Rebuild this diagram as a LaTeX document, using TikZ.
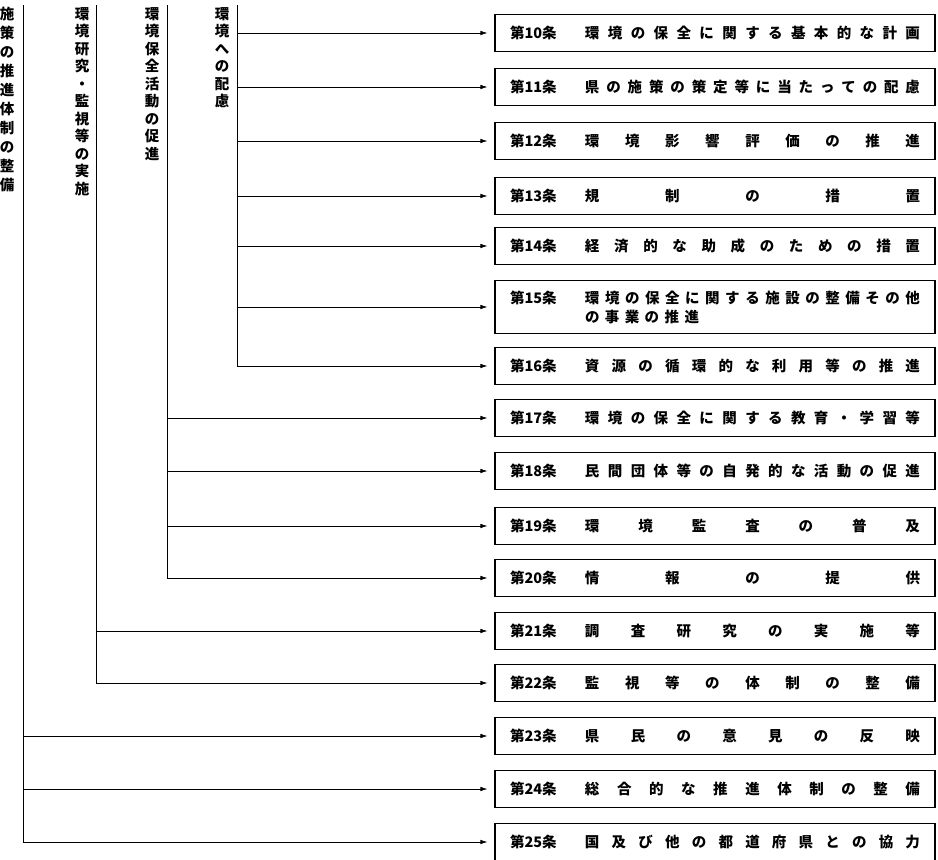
\documentclass[tikz,border=0pt]{standalone}
\usepackage{fontspec}
\newfontfamily\jp{Noto Sans CJK JP}
\usetikzlibrary{arrows.meta}

\ExplSyntaxOn
% spread the characters of #2 evenly over the width #1
\NewDocumentCommand\spread{mm}{
  \hbox_to_wd:nn {#1} { \skip_horizontal:n {0pt~plus~-1fil} \tl_map_inline:nn {#2} { \hfil ##1 } }
}
% set the characters of #2 one under another
\NewDocumentCommand\vtext{O{18pt}m}{
  \vbox:n { \baselineskip=#1 \lineskiplimit=-10pt \tl_map_inline:nn {#2} { \hbox_to_wd:nn {1em} { \hss ##1 \hss } } }
}
\ExplSyntaxOff
\newcommand\artbox[2]{\makebox[75pt][l]{#1}\spread{335pt}{#2}}

\begin{document}
\begin{tikzpicture}[
  x=1pt, y=-1pt,
  every node/.style={font=\jp\bfseries\fontsize{14.5pt}{19pt}\selectfont},
  box/.style={draw, line width=1.1pt, minimum width=440pt, minimum height=37pt, inner xsep=0pt},
  vlabel/.style={anchor=north, inner sep=0pt},
  conn/.style={line width=0.7pt, >={Latex[length=7pt,width=4.5pt]}, shorten >=7pt},
]
\useasboundingbox (0,0) rectangle (938,860);

% Left: vertical headings and their trunks
\node[vlabel] (h4) at (7,7) {\vtext[19pt]{施策の推進体制の整備}};
\node[vlabel] (h3) at (82,7) {\vtext[17.5pt]{環境研究・監視等の実施}};
\node[vlabel] (h2) at (152,7) {\vtext[17.5pt]{環境保全活動の促進}};
\node[vlabel] (h1) at (222,7) {\vtext[17.5pt]{環境への配慮}};
\coordinate (t4) at (23,5);
\coordinate (t3) at (96,5);
\coordinate (t2) at (167,5);
\coordinate (t1) at (237,5);

% Right: articles
\node[box] (a10) at (715,33) {\artbox{第10条}{環境の保全に関する基本的な計画}};
\node[box] (a11) at (715,87) {\artbox{第11条}{県の施策の策定等に当たっての配慮}};
\node[box] (a12) at (715,141) {\artbox{第12条}{環境影響評価の推進}};
\node[box] (a13) at (715,196) {\artbox{第13条}{規制の措置}};
\node[box] (a14) at (715,246) {\artbox{第14条}{経済的な助成のための措置}};
\node[box, minimum height=53pt, align=left] (a15) at (715,307) {\artbox{第15条}{環境の保全に関する施設の整備その他}\\\hspace*{75pt}\spread{114pt}{の事業の推進}};
\node[box] (a16) at (715,366) {\artbox{第16条}{資源の循環的な利用等の推進}};
\node[box] (a17) at (715,418) {\artbox{第17条}{環境の保全に関する教育・学習等}};
\node[box] (a18) at (715,471) {\artbox{第18条}{民間団体等の自発的な活動の促進}};
\node[box] (a19) at (715,526) {\artbox{第19条}{環境監査の普及}};
\node[box] (a20) at (715,578) {\artbox{第20条}{情報の提供}};
\node[box] (a21) at (715,631) {\artbox{第21条}{調査研究の実施等}};
\node[box] (a22) at (715,683) {\artbox{第22条}{監視等の体制の整備}};
\node[box] (a23) at (715,736) {\artbox{第23条}{県民の意見の反映}};
\node[box] (a24) at (715,789) {\artbox{第24条}{総合的な推進体制の整備}};
\node[box] (a25) at (715,842) {\artbox{第25条}{国及び他の都道府県との協力}};

% Arrows
\draw[->, conn] (t1) |- (a16);
\draw[->, conn] (t1 |- a10) -- (a10);
\draw[->, conn] (t1 |- a11) -- (a11);
\draw[->, conn] (t1 |- a12) -- (a12);
\draw[->, conn] (t1 |- a13) -- (a13);
\draw[->, conn] (t1 |- a14) -- (a14);
\draw[->, conn] (t1 |- a15) -- (a15);
\draw[->, conn] (t2) |- (a20);
\draw[->, conn] (t2 |- a17) -- (a17);
\draw[->, conn] (t2 |- a18) -- (a18);
\draw[->, conn] (t2 |- a19) -- (a19);
\draw[->, conn] (t3) |- (a22);
\draw[->, conn] (t3 |- a21) -- (a21);
\draw[->, conn] (t4) |- (a25);
\draw[->, conn] (t4 |- a23) -- (a23);
\draw[->, conn] (t4 |- a24) -- (a24);

\end{tikzpicture}
\end{document}
